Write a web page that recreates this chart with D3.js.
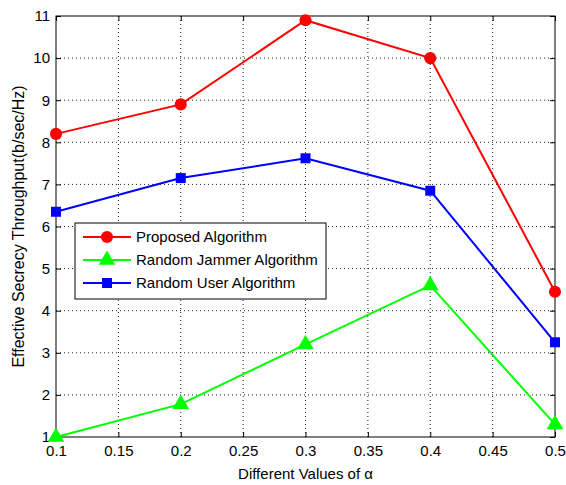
<!DOCTYPE html>
<html>
<head>
<meta charset="utf-8">
<script src="https://cdn.jsdelivr.net/npm/d3@7"></script>
<style>
body { margin: 0; background: #fff; }
text { font-family: "Liberation Sans", Arial, sans-serif; }
</style>
</head>
<body>
<div id="chart"></div>
<script>
// values
var alphas = [0.1, 0.2, 0.3, 0.4, 0.5];
var proposed = [8.2, 8.9, 10.9, 10.0, 4.45];
var jammer = [1.0, 1.78, 3.2, 4.6, 1.3];
var randUser = [6.35, 7.15, 7.62, 6.85, 3.25];
var xTicks = [0.1, 0.15, 0.2, 0.25, 0.3, 0.35, 0.4, 0.45, 0.5];
var yTicks = [1, 2, 3, 4, 5, 6, 7, 8, 9, 10, 11];

var series = [
    {name: "Proposed Algorithm", values: proposed, color: "#ff0000", marker: "circle"},
    {name: "Random Jammer Algorithm", values: jammer, color: "#00ff00", marker: "triangle"},
    {name: "Random User Algorithm", values: randUser, color: "#0000ff", marker: "square"}
];

var W = 566, H = 485;
var margin = {top: 16, right: 11, bottom: 48, left: 56},
    width = W - margin.left - margin.right,
    height = H - margin.top - margin.bottom;

var svg = d3.select("#chart")
    .append("svg")
        .attr("width", W)
        .attr("height", H)
    .append("g")
        .attr("transform", "translate(" + margin.left + "," + margin.top + ")");

var x = d3.scaleLinear().domain([0.1, 0.5]).range([0, width]);
var y = d3.scaleLinear().domain([1, 11]).range([height, 0]);

// grid
svg.append("g")
    .selectAll("line")
    .data(xTicks.slice(1, -1))
    .enter()
    .append("line")
        .attr("x1", d => x(d)).attr("x2", d => x(d))
        .attr("y1", 0).attr("y2", height)
        .attr("stroke", "#222").attr("stroke-width", 1)
        .attr("stroke-dasharray", "1,3");
svg.append("g")
    .selectAll("line")
    .data(yTicks.slice(1, -1))
    .enter()
    .append("line")
        .attr("y1", d => y(d)).attr("y2", d => y(d))
        .attr("x1", 0).attr("x2", width)
        .attr("stroke", "#222").attr("stroke-width", 1)
        .attr("stroke-dasharray", "1,3");

// axes, ticks pointing inward, mirrored on top and right
function styleAxis(g) {
    g.select(".domain").remove();
    g.selectAll("text").attr("font-size", 15).attr("fill", "#000");
    g.selectAll("line").attr("stroke", "#000");
}
svg.append("g")
    .attr("transform", "translate(0," + height + ")")
    .call(d3.axisBottom(x).tickValues(xTicks).tickSizeInner(-5).tickSizeOuter(0).tickPadding(8).tickFormat(d3.format("")))
    .call(styleAxis);
svg.append("g")
    .call(d3.axisTop(x).tickValues(xTicks).tickSizeInner(-5).tickSizeOuter(0).tickFormat(""))
    .call(styleAxis);
svg.append("g")
    .call(d3.axisLeft(y).tickValues(yTicks).tickSizeInner(-5).tickSizeOuter(0).tickPadding(6))
    .call(styleAxis);
svg.append("g")
    .attr("transform", "translate(" + width + ",0)")
    .call(d3.axisRight(y).tickValues(yTicks).tickSizeInner(-5).tickSizeOuter(0).tickFormat(""))
    .call(styleAxis);

svg.append("rect")
    .attr("width", width).attr("height", height)
    .attr("fill", "none").attr("stroke", "#000").attr("stroke-width", 1);

// lines and markers
var line = d3.line()
    .x(function(d, i) { return x(alphas[i]) })
    .y(function(d) { return y(d) });

var symbols = {
    circle: d3.symbol().type(d3.symbolCircle).size(115),
    triangle: d3.symbol().type(d3.symbolTriangle).size(120),
    square: d3.symbol().type(d3.symbolSquare).size(100)
};

series.forEach(s => {
    svg.append("path")
        .datum(s.values)
        .attr("fill", "none")
        .attr("stroke", s.color)
        .attr("stroke-width", 2)
        .attr("d", line);
    svg.append("g")
        .selectAll("path")
        .data(s.values)
        .enter()
        .append("path")
            .attr("transform", (d, i) => "translate(" + x(alphas[i]) + "," + y(d) + ")")
            .attr("d", symbols[s.marker])
            .attr("fill", s.color);
});

// legend
var legend = svg.append("g").attr("transform", "translate(19,207)");
legend.append("rect")
    .attr("width", 251).attr("height", 76)
    .attr("fill", "#fff").attr("stroke", "#000").attr("stroke-width", 1);
series.forEach((s, i) => {
    var ly = 14 + i * 23;
    legend.append("line")
        .attr("x1", 8).attr("x2", 56).attr("y1", ly).attr("y2", ly)
        .attr("stroke", s.color).attr("stroke-width", 2);
    legend.append("path")
        .attr("transform", "translate(32," + ly + ")")
        .attr("d", symbols[s.marker])
        .attr("fill", s.color);
    legend.append("text")
        .attr("x", 61).attr("y", ly + 5)
        .attr("font-size", 15)
        .text(s.name);
});

// axis titles
svg.append("text")
    .attr("x", width / 2).attr("y", height + 42)
    .attr("text-anchor", "middle")
    .attr("font-size", 15)
    .text("Different Values of α");
svg.append("text")
    .attr("transform", "translate(-32," + (height / 2) + ") rotate(-90)")
    .attr("text-anchor", "middle")
    .attr("font-size", 16)
    .text("Effective Secrecy Throughput(b/sec/Hz)");
</script>
</body>
</html>
